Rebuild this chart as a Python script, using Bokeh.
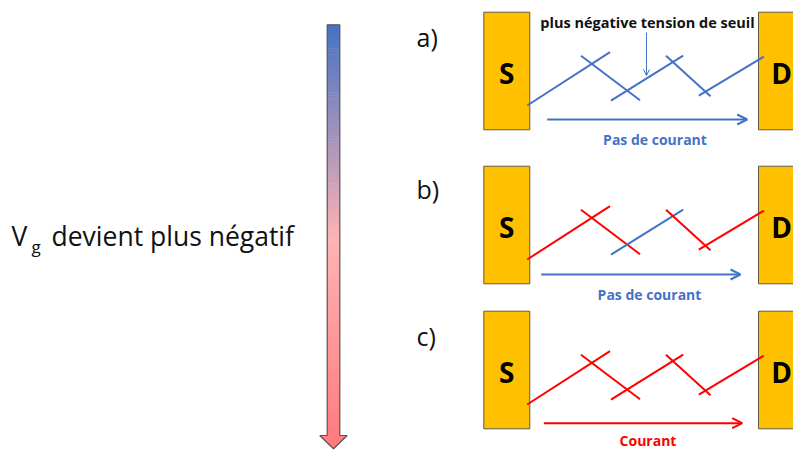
from bokeh.plotting import figure
from bokeh.models import Range1d, Arrow, OpenHead, ColumnDataSource
from bokeh.core.properties import value
from bokeh.embed import file_html
from bokeh.resources import INLINE

# ---- data (diagram coordinates in reference pixels) ----
panel_labels = ["a)", "b)", "c)"]
panel_label_y = [36.0, 188.0, 335.5]
panel_tops = [11.7, 165.7, 310.7]
box_height = 117.6
source_box_x = [483.3, 529.3]
drain_box_x = [758.0, 806.0]

# channel zig-zag template (y relative to box top)
seg_x0 = [526.7, 580.5, 610.5, 665.5, 698.3]
seg_y0 = [93.3, 43.5, 88.5, 43.5, 83.5]
seg_x1 = [609.5, 639.5, 682.7, 710.0, 763.3]
seg_y1 = [40.0, 88.0, 43.5, 84.0, 44.5]
seg_state = [
    ["off", "off", "off", "off", "off"],
    ["on", "on", "off", "on", "on"],
    ["on", "on", "on", "on", "on"],
]

current_labels = ["Pas de courant", "Pas de courant", "Courant"]
current_state = ["off", "off", "on"]
current_x0 = [546.7, 540.7, 543.3]
current_x1 = [746.7, 740.0, 741.7]
current_y_rel = [107.3, 108.3, 112.0]
current_label_x = [654.5, 649.0, 647.5]
current_label_y_rel = [127.5, 128.5, 129.6]

threshold_label = "plus négative tension de seuil"
left_label_main = "V"
left_label_sub = "g"
left_label_rest = "devient plus négatif"

BLUE = "#4472C4"
RED = "#FF0000"
COL = {"off": BLUE, "on": RED}
FONT = "Open Sans"

p = figure(width=793, height=450, x_range=Range1d(0, 793), y_range=Range1d(450, 0),
           output_backend="svg", toolbar_location=None, min_border=0,
           x_axis_location=None, y_axis_location=None, background_fill_color="white")
p.xgrid.visible = False
p.ygrid.visible = False
p.outline_line_color = None

# ---- gradient arrow ----
g_top, g_bot = 24.3, 435.0
stops = [(0.0, (68, 114, 196)), (0.525, (255, 179, 179)), (1.0, (255, 124, 128))]

def col_at(f):
    for (f0, c0), (f1, c1) in zip(stops[:-1], stops[1:]):
        if f <= f1:
            t = (f - f0) / (f1 - f0)
            return "#%02x%02x%02x" % tuple(int(round(a + (b - a) * t)) for a, b in zip(c0, c1))
    return "#%02x%02x%02x" % stops[-1][1]

n = 140
tops, bots, cols = [], [], []
for i in range(n):
    a = g_top + (g_bot - g_top) * i / n
    b = g_top + (g_bot - g_top) * (i + 1) / n
    tops.append(a)
    bots.append(b + 0.6)
    cols.append(col_at((i + 0.5) / n))
p.quad(left=326.7, right=339.3, top=tops, bottom=bots, fill_color=cols, line_color=None)
hx = [319.3, 346.7, 333.0]
hy = [435.0, 435.0, 448.3]
p.patch(hx, hy, fill_color="#FF7C80", line_color=None)
p.patch([326.7, 339.3, 339.3, 346.7, 333.0, 319.3, 326.7, 326.7],
        [24.3, 24.3, 435.0, 435.0, 448.3, 435.0, 435.0, 24.3],
        fill_color=None, line_color="#555555", line_width=1.2)

# ---- left label ----
p.text(x=[11], y=[235.5], text=[left_label_main], text_font=value(FONT), text_font_size="26.5px",
       text_baseline="middle", text_align="left", text_color="#111111")
p.text(x=[31], y=[245.5], text=[left_label_sub], text_font=value(FONT), text_font_size="17px",
       text_baseline="middle", text_align="left", text_color="#111111")
p.text(x=[51], y=[235.5], text=[left_label_rest], text_font=value(FONT), text_font_size="26.5px",
       text_baseline="middle", text_align="left", text_color="#111111")

# ---- panels ----
for k in range(3):
    top = panel_tops[k]
    p.quad(left=source_box_x[0], right=source_box_x[1], top=top, bottom=top + box_height,
           fill_color="#FFC000", line_color="#5f5a45", line_width=1)
    p.quad(left=drain_box_x[0], right=drain_box_x[1], top=top, bottom=top + box_height,
           fill_color="#FFC000", line_color="#5f5a45", line_width=1)
    p.text(x=[506.3], y=[top + 60.5], text=["S"], text_font=value(FONT), text_font_size="28px",
           text_font_style="bold", text_align="center", text_baseline="middle", text_color="black")
    p.text(x=[781.0], y=[top + 60.5], text=["D"], text_font=value(FONT), text_font_size="28px",
           text_font_style="bold", text_align="center", text_baseline="middle", text_color="black")
    p.text(x=[416], y=[panel_label_y[k]], text=[panel_labels[k]], text_font=value(FONT),
           text_font_size="25px", text_align="left", text_baseline="middle", text_color="#111111")
    src = ColumnDataSource(dict(
        x0=seg_x0, x1=seg_x1,
        y0=[top + v for v in seg_y0], y1=[top + v for v in seg_y1],
        c=[COL[s] for s in seg_state[k]]))
    p.segment(x0="x0", y0="y0", x1="x1", y1="y1", line_color="c", line_width=2, source=src)
    c = COL[current_state[k]]
    ay = top + current_y_rel[k]
    p.add_layout(Arrow(x_start=current_x0[k], y_start=ay, x_end=current_x1[k], y_end=ay,
                       line_color=c, line_width=2,
                       end=OpenHead(size=10, line_color=c, line_width=2)))
    p.text(x=[current_label_x[k]], y=[top + current_label_y_rel[k]], text=[current_labels[k]],
           text_font=value(FONT), text_font_size="14px", text_font_style="bold",
           text_align="center", text_baseline="middle", text_color=c)

# threshold annotation
p.add_layout(Arrow(x_start=646, y_start=32, x_end=646, y_end=75, line_color=BLUE, line_width=1,
                   end=OpenHead(size=6, line_color=BLUE, line_width=1)))
p.text(x=[647], y=[21.7], text=[threshold_label], text_font=value(FONT), text_font_size="14.5px",
       text_font_style="bold", text_align="center", text_baseline="middle", text_color="#111111")

open("out.html", "w").write(file_html(p, INLINE))
